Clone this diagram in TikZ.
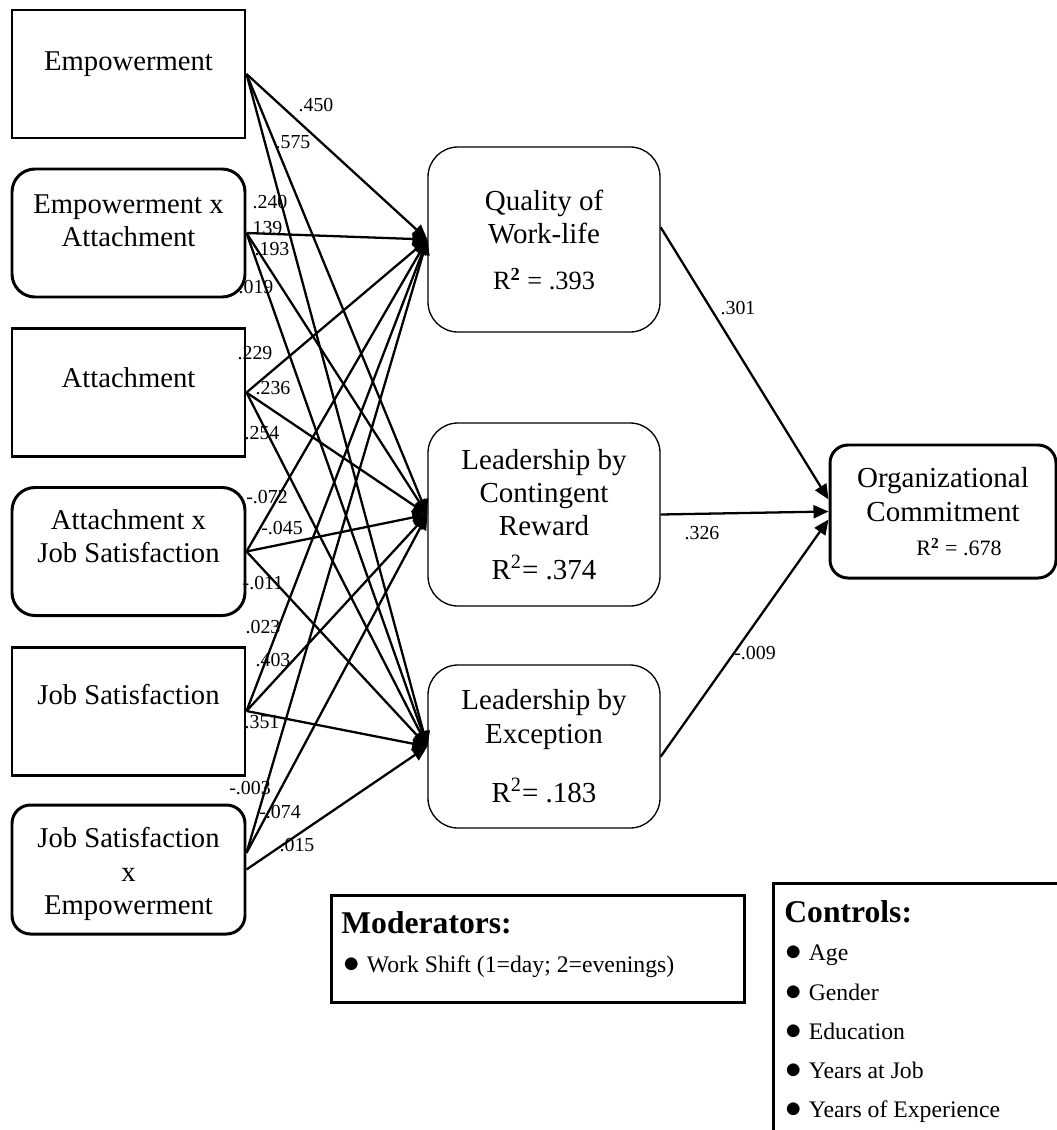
\documentclass[tikz,border=0pt]{standalone}
\usepackage{fontspec}
\usepackage{graphicx}
\setmainfont{Liberation Serif}
\usetikzlibrary{arrows.meta}
\newcommand{\itm}{\raisebox{-0.05ex}{\scalebox{1.3}{$\bullet$}}\hspace{4pt}}
\tikzset{
  lbox/.style  ={draw=black, line width=1.7pt, minimum width=4.66cm, minimum height=2.56cm},
  lrbox/.style ={lbox, rounded corners=0.46cm},
  ltxt/.style  ={align=center, font=\fontsize{16.3}{19}\selectfont},
  mbox/.style  ={draw=black, line width=0.75pt, rounded corners=0.6cm, minimum width=4.64cm,
                 align=center, font=\fontsize{16.5}{19}\selectfont},
  obox/.style  ={draw=black, line width=1.7pt, rounded corners=0.36cm, minimum width=4.52cm,
                 minimum height=2.66cm, align=center, font=\fontsize{16.5}{19.5}\selectfont},
  coef/.style  ={font=\fontsize{11.3}{13}\selectfont, inner sep=0pt},
  eff/.style   ={-{Triangle[length=0.3cm,width=0.26cm]}, line width=1.3pt},
  keybox/.style={draw=black, line width=1.8pt, anchor=north west},
  keyhd/.style ={font=\fontsize{18}{21}\selectfont\bfseries, anchor=base west, inner sep=0pt},
  keyit/.style ={font=\fontsize{13.5}{16}\selectfont, anchor=base west, inner sep=0pt},
}

\begin{document}
\begin{tikzpicture}

  \useasboundingbox (0,0) rectangle (21.14,-22.6);
  \clip (0,0) rectangle (21.14,-22.6);

  % ---- predictors ----
  \node[lbox]  (emp) at (2.57,-1.48)  {};
  \node[lrbox] (exa) at (2.57,-4.66)  {};
  \node[lbox]  (att) at (2.57,-7.85)  {};
  \node[lrbox] (axj) at (2.57,-11.03) {};
  \node[lbox]  (js)  at (2.57,-14.22) {};
  \node[lrbox, rounded corners=0.37cm, minimum height=2.58cm] (jse) at (2.57,-17.39) {};

  \node[ltxt] (empT) at (2.57,-1.28)  {Empowerment};
  \node[ltxt] (exaT) at (2.57,-4.42)  {Empowerment x\\Attachment};
  \node[ltxt] (attT) at (2.57,-7.56)  {Attachment};
  \node[ltxt] (axjT) at (2.57,-10.72) {Attachment x\\Job Satisfaction};
  \node[ltxt] (jsT)  at (2.57,-13.90) {Job Satisfaction};
  \node[ltxt] (jseT) at (2.57,-17.48) {Job Satisfaction\\x\\Empowerment};

  % ---- mediators ----
  \node[mbox, minimum height=3.7cm, text depth=0pt] (qwl) at (10.88,-4.79)
        {Quality of\\Work-life\\[7pt]{\fontsize{15}{18}\selectfont R\textsuperscript{\textbf{2}} = .393}};
  \node[mbox, minimum height=3.66cm] (lcr) at (10.88,-10.29)
        {Leadership by\\Contingent\\Reward\\[6pt]R\textsuperscript{2}= .374};
  \node[mbox, minimum height=3.26cm] (lex) at (10.88,-14.93)
        {Leadership by\\Exception\\[15pt]R\textsuperscript{2}= .183};

  % ---- outcome ----
  \node[obox] (org) at (18.86,-10.23)
        {Organizational\\Commitment\\{\fontsize{12.5}{15}\selectfont\hspace*{0.64cm}R\textsuperscript{\textbf{2}} = .678}};

  % ---- predictor paths ----
  \draw[eff] (emp.east) -- (qwl.west);
  \draw[eff] (emp.east) -- (lcr.west);
  \draw[eff] (emp.east) -- (lex.west);
  \draw[eff] (exa.east) -- (qwl.west);
  \draw[eff] (exa.east) -- (lcr.west);
  \draw[eff] (exa.east) -- (lex.west);
  \draw[eff] (att.east) -- (qwl.west);
  \draw[eff] (att.east) -- (lcr.west);
  \draw[eff] (att.east) -- (lex.west);
  \draw[eff] (axj.east) -- (qwl.west);
  \draw[eff] (axj.east) -- (lcr.west);
  \draw[eff] (axj.east) -- (lex.west);
  \draw[eff] (js.east)  -- (qwl.west);
  \draw[eff] (js.east)  -- (lcr.west);
  \draw[eff] (js.east)  -- (lex.west);
  \draw[eff] (jse.8.5)  -- (qwl.west);
  \draw[eff] (jse.8.5)  -- (lcr.west);
  \draw[eff] (jse.east) -- (lex.west);

  % ---- mediator paths ----
  \draw[eff] (qwl.6)    -- (org.174);
  \draw[eff] (lcr.east) -- (org.west);
  \draw[eff] (lex.-5)   -- (org.184);

  % ---- coefficients ----
  \node[coef] (b450)  at (6.32,-2.10)  {.450};
  \node[coef] (b575)  at (5.86,-2.84)  {.575};
  \node[coef] (b240)  at (5.40,-4.04)  {.240};
  \node[coef] (b139)  at (5.30,-4.56)  {.139};
  \node[coef] (b193)  at (5.44,-4.98)  {.193};
  \node[coef] (b019)  at (5.12,-5.74)  {.019};
  \node[coef] (b229)  at (5.10,-7.06)  {.229};
  \node[coef] (b236)  at (5.46,-7.76)  {.236};
  \node[coef] (b254)  at (5.24,-8.66)  {.254};
  \node[coef] (bm072) at (5.34,-9.94)  {-.072};
  \node[coef] (bm045) at (5.64,-10.56) {-.045};
  \node[coef] (bm011) at (5.26,-11.66) {-.011};
  \node[coef] (b023)  at (5.26,-12.54) {.023};
  \node[coef] (b403)  at (5.46,-13.20) {.403};
  \node[coef] (b351)  at (5.24,-14.44) {.351};
  \node[coef] (bm003) at (5.00,-15.76) {-.003};
  \node[coef] (bm074) at (5.60,-16.24) {-.074};
  \node[coef] (b015)  at (5.94,-16.90) {.015};
  \node[coef] (b301)  at (14.76,-6.16) {.301};
  \node[coef] (b326)  at (14.04,-10.66) {.326};
  \node[coef] (bm009) at (15.10,-13.06) {-.009};

  % ---- moderators ----
  \node[keybox, minimum width=8.26cm, minimum height=2.14cm] (mod) at (6.60,-17.88) {};
  \node[keyhd] (modH) at (6.82,-18.66) {Moderators:};
  \node[keyit] (mod1) at (6.86,-19.44) {\itm Work Shift (1=day; 2=evenings)};

  % ---- controls ----
  \node[keybox, minimum width=6.2cm, minimum height=5.6cm] (ctl) at (15.44,-17.64) {};
  \node[keyhd] (ctlH) at (15.68,-18.44) {Controls:};
  \node[keyit] (ctl1) at (15.70,-19.20) {\itm Age};
  \node[keyit] (ctl2) at (15.70,-20.00) {\itm Gender};
  \node[keyit] (ctl3) at (15.70,-20.78) {\itm Education};
  \node[keyit] (ctl4) at (15.70,-21.56) {\itm Years at Job};
  \node[keyit] (ctl5) at (15.70,-22.34) {\itm Years of Experience};

\end{tikzpicture}
\end{document}
